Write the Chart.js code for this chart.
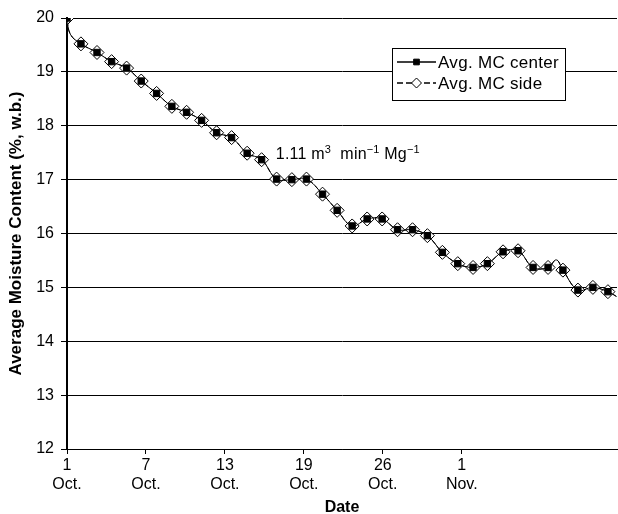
<!DOCTYPE html>
<html><head><meta charset="utf-8">
<script src="https://cdn.jsdelivr.net/npm/chart.js@4.4.0/dist/chart.umd.min.js"></script>
<style>html,body{margin:0;padding:0;background:#fff;}#wrap{width:618px;height:514px;}</style>
</head><body><div id="wrap"><canvas id="c" width="618" height="514"></canvas></div>
<script>
// x positions of the markers, in days after 1 Oct
const markerDays = [0,1.06,2.28,3.39,4.53,5.64,6.81,7.97,9.09,10.23,11.37,12.51,13.69,14.79,15.93,17.09,18.2,19.42,20.53,21.67,22.81,23.95,25.12,26.26,27.39,28.53,29.7,30.86,31.95,33.14,34.28,35.42,36.56,37.69,38.83,39.97,41.11];
const avgMCCenter = [20.0,19.52,19.36,19.19,19.07,18.83,18.60,18.36,18.25,18.10,17.87,17.78,17.49,17.37,17.01,17.00,17.01,16.73,16.43,16.14,16.27,16.27,16.07,16.07,15.96,15.65,15.44,15.37,15.44,15.66,15.68,15.37,15.37,15.32,14.95,15.00,14.92];
const avgMCSide   = [20.0,19.52,19.36,19.19,19.07,18.83,18.60,18.36,18.25,18.10,17.87,17.78,17.49,17.37,17.01,17.00,17.01,16.73,16.43,16.14,16.27,16.27,16.07,16.07,15.96,15.65,15.44,15.37,15.44,15.66,15.68,15.37,15.37,15.32,14.95,15.00,14.92];
// extra points of the smoothed curve that carry no marker
const curveDays = [0.25, 37.19, 41.77];
const curveMC   = [19.70, 15.51, 14.83];
// dashed lead-in of the side series at the first date
const sideLeadDay = 0, sideLeadMC = 0;
// x tick positions (days) and labels
const tickDays = [0, 6, 12, 18, 24, 30];
const tickLabels = [["1","Oct."],["7","Oct."],["13","Oct."],["19","Oct."],["26","Oct."],["1","Nov."]];
const yTicks = [12,13,14,15,16,17,18,19,20];
const seriesNames = ["Avg. MC center","Avg. MC side"];

function buildSeries(vals, lead){
  const pts = markerDays.map((d,i)=>({x:d, y:vals[i], m:true}));
  curveDays.forEach((d,i)=>pts.push({x:d, y:curveMC[i], m:false}));
  pts.sort((a,b)=>a.x-b.x || (a.m?1:-1));
  if (lead) pts.unshift({x:sideLeadDay, y:sideLeadMC, m:false});
  return pts;
}
const centerPts = buildSeries(avgMCCenter, false);
const sidePts = buildSeries(avgMCSide, true);
const FONT = "'Liberation Sans', Arial, Helvetica, sans-serif";

const annotation = {
  id:'annot',
  afterDatasetsDraw(chart){
    const ctx = chart.ctx, xs = chart.scales.x, ys = chart.scales.y;
    let x = xs.getPixelForValue(15.87), y = ys.getPixelForValue(17.39);
    ctx.save(); ctx.fillStyle='#000'; ctx.textBaseline='alphabetic'; ctx.textAlign='left';
    ctx.letterSpacing = '0.2px';
    const parts = [["1.11 m",0],["3",1],["  min",0],["\u22121",1],[" Mg",0],["\u22121",1]];
    parts.forEach(([t,sup])=>{
      ctx.font = (sup? "11px ":"16px ") + FONT;
      ctx.fillText(t, x, sup? y-6 : y);
      x += ctx.measureText(t).width;
    });
    ctx.restore();
  }
};
const boxLegend = {
  id:'boxLegend',
  afterDraw(chart){
    const ctx = chart.ctx;
    ctx.save();
    const bx=392.5, by=48.5, bw=173, bh=52;
    ctx.fillStyle='#fff'; ctx.fillRect(bx,by,bw,bh);
    ctx.strokeStyle='#000'; ctx.lineWidth=1; ctx.strokeRect(bx,by,bw,bh);
    chart.data.datasets.forEach((ds,i)=>{
      const y = 62 + i*21;
      ctx.strokeStyle='#000'; ctx.lineWidth=1.5;
      ctx.setLineDash(i===1?[6,3]:[]);
      ctx.beginPath(); ctx.moveTo(397,y); ctx.lineTo(436,y); ctx.stroke();
      ctx.setLineDash([]);
      ctx.fillStyle = i===0 ? '#000' : '#fff'; ctx.lineWidth=1;
      Chart.helpers.drawPoint(ctx,{pointStyle: i===0?'rect':'rectRot', rotation:0, radius: i===0?4:5, borderWidth:1}, 416.5, y);
      ctx.fillStyle='#000'; ctx.font = "17px " + FONT; ctx.textBaseline='middle'; ctx.textAlign='left';
      ctx.letterSpacing = '0.3px';
      ctx.fillText(ds.label, 438, y+1);
      ctx.letterSpacing = '0px';
    });
    ctx.restore();
  }
};

new Chart(document.getElementById('c'), {
  type:'line',
  data:{ datasets:[
    { label:seriesNames[0], data:centerPts, borderColor:'#000', borderWidth:1, backgroundColor:'#000',
      pointStyle:'rect', pointRadius: centerPts.map(p=>p.m?4.5:0), pointBorderColor:'#000', pointBackgroundColor:'#000', pointBorderWidth:1,
      tension:0.4 },
    { label:seriesNames[1], data:sidePts, borderColor:'#000', borderWidth:1, borderDash:[5,3],
      pointStyle:'rectRot', pointRadius: sidePts.map(p=>p.m?7:0), pointBorderColor:'#000', pointBackgroundColor:'#fff', pointBorderWidth:1,
      tension:0.4 }
  ]},
  options:{
    responsive:false, animation:false, devicePixelRatio:1,
    layout:{ autoPadding:false, padding:{ top:18, right:1, left:0, bottom:0 } },
    plugins:{ legend:{display:false}, tooltip:{enabled:false} },
    scales:{
      x:{ type:'linear', min:0, max:41.8,
        afterBuildTicks(s){ s.ticks = tickDays.map(v=>({value:v})); },
        afterFit(s){ s.height = 65; s.paddingRight = 0; s.paddingLeft = 0; },
        ticks:{ callback:(v)=>{ const i = tickDays.indexOf(v); return i>=0 ? tickLabels[i] : ''; },
          color:'#000', font:{family:FONT, size:16, lineHeight:1.2}, padding:2, maxRotation:0, autoSkip:false },
        grid:{ drawOnChartArea:false, drawTicks:true, tickLength:5, color:'#000', lineWidth:1 },
        border:{ color:'#000', width:1 },
        title:{ display:true, text:'Date', color:'#000', font:{family:FONT, size:16, weight:'bold', lineHeight:1}, padding:{bottom:-2} }
      },
      y:{ min:12, max:20,
        afterBuildTicks(s){ s.ticks = yTicks.map(v=>({value:v})); },
        afterFit(s){ s.width = 67; },
        ticks:{ color:'#000', font:{family:FONT, size:16}, padding:7 },
        grid:{ color:'#000', lineWidth:1, tickLength:6, drawTicks:true },
        border:{ color:'#000', width:2 },
        title:{ display:true, text:'Average Moisture Content (%, w.b.)', color:'#000', font:{family:FONT, size:17, weight:'bold', lineHeight:1.2}, padding:{top:6} }
      }
    }
  },
  plugins:[annotation, boxLegend]
});
</script></body></html>
